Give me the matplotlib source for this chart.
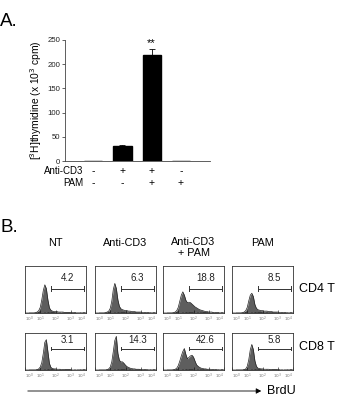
import matplotlib
matplotlib.use("Agg")
import matplotlib.pyplot as plt

plt.rcParams['font.family'] = ['Liberation Sans', 'DejaVu Sans']

W, H = 341, 397

# ---------------- data ----------------
conditions = ["1", "2", "3", "4"]
thymidine = [0.5, 31, 218, 0.5]
thymidine_err = [0, 3, 13, 0]
anti_cd3_signs = ["-", "+", "+", "-"]
pam_signs = ["-", "-", "+", "+"]

col_titles = ["NT", "Anti-CD3", "Anti-CD3\n+ PAM", "PAM"]
row_titles = ["CD4 T", "CD8 T"]
gate_values = [["4.2", "6.3", "18.8", "8.5"],
               ["3.1", "14.3", "42.6", "5.8"]]

# BrdU histograms: x grid in log10 units (0..4), y in % of box height
log_brdu = [0.0, 0.1, 0.2, 0.3, 0.4, 0.5, 0.6, 0.7, 0.8, 0.9, 1.0,
            1.1, 1.2, 1.3, 1.4, 1.5, 1.6, 1.7, 1.8, 1.9, 2.0,
            2.1, 2.2, 2.3, 2.4, 2.5, 2.6, 2.7, 2.8, 2.9, 3.0,
            3.1, 3.2, 3.3, 3.4, 3.5, 3.6, 3.7, 3.8, 3.9, 4.0]
cd4_nt = [0,0,0,0,0,0,0,1,2,5,12,28,48,60,52,28,11,6,4,3,3,3,2,2,2,2,1,1,1,1,1,1,1,1,0,0,0,0,0,0,0]
cd4_cd3 = [0,0,0,0,0,0,0,1,2,4,10,25,50,63,52,28,14,9,7,6,5,5,4,4,3,3,3,2,2,2,2,1,1,1,1,1,0,0,0,0,0]
cd4_cd3pam = [0,0,0,0,0,0,0,1,2,5,12,25,38,45,38,27,22,23,22,19,16,13,11,9,7,6,5,4,3,3,2,2,2,1,1,1,1,0,0,0,0]
cd4_pam = [0,0,0,0,0,0,0,1,2,5,12,26,38,42,35,18,10,7,6,5,5,4,4,4,3,3,3,2,2,2,2,1,1,1,1,1,0,0,0,0,0]
cd8_nt = [0,0,0,0,0,0,0,0,1,3,8,20,45,75,82,50,18,7,4,3,3,2,2,2,1,1,1,1,1,1,1,0,0,0,0,0,0,0,0,0,0]
cd8_cd3 = [0,0,0,0,0,0,0,0,1,3,8,22,50,80,91,45,26,22,22,18,13,9,7,5,4,3,3,2,2,2,1,1,1,1,1,0,0,0,0,0,0]
cd8_cd3pam = [0,0,0,0,0,0,0,1,2,5,12,24,38,50,58,42,30,34,38,40,35,24,14,10,7,5,4,3,3,2,2,2,1,1,1,1,0,0,0,0,0]
cd8_pam = [0,0,0,0,0,0,0,0,1,3,10,28,55,69,55,25,10,5,4,3,3,2,2,2,2,1,1,1,1,1,1,1,0,0,0,0,0,0,0,0,0]
histograms = [[cd4_nt, cd4_cd3, cd4_cd3pam, cd4_pam],
              [cd8_nt, cd8_cd3, cd8_cd3pam, cd8_pam]]
gate_range = [1.7, 3.85]
decade_labels = [r"$10^{0}$", r"$10^{1}$", r"$10^{2}$", r"$10^{3}$", r"$10^{4}$"]

# ---------------- helpers ----------------
def fx(px):
    return px / W

def fy(py):
    return 1 - py / H

def rect(left, top, right, bottom):
    return [fx(left), fy(bottom), fx(right) - fx(left), fy(top) - fy(bottom)]

fig = plt.figure(figsize=(W / 100, H / 100), dpi=100)
fig.patch.set_facecolor("white")

# ---------------- Panel A ----------------
axA = fig.add_axes(rect(65, 40, 210, 161))
xpos = list(range(len(conditions)))
axA.bar(xpos, thymidine, width=0.62, color="black", edgecolor="black")
axA.errorbar(xpos[1:3], thymidine[1:3], yerr=[[0, 0], thymidine_err[1:3]],
             fmt="none", ecolor="black", elinewidth=0.6, capsize=2.0, capthick=0.6)
axA.text(2, thymidine[2] + thymidine_err[2] + 2, "**", ha="center", va="bottom", fontsize=8)
axA.set_xlim(-0.97, 4.0)
axA.set_ylim(0, 250)
axA.set_yticks([0, 50, 100, 150, 200, 250])
axA.tick_params(axis="y", labelsize=5.6, length=2, width=0.5, pad=1.5, colors="#222222")
axA.set_xticks([])
for s in ["top", "right"]:
    axA.spines[s].set_visible(False)
for s in ["left", "bottom"]:
    axA.spines[s].set_linewidth(0.6)
    axA.spines[s].set_color("#444444")
axA.set_ylabel(r"[$^{3}$H]thymidine (x 10$^{3}$ cpm)", fontsize=7.4, labelpad=2)

tx = axA.get_xaxis_transform()
for i in xpos:
    axA.text(i, -0.085, anti_cd3_signs[i], transform=tx, ha="center", va="center", fontsize=7.5)
    axA.text(i, -0.185, pam_signs[i], transform=tx, ha="center", va="center", fontsize=7.5)
fig.text(fx(83), fy(171), "Anti-CD3", ha="right", va="center", fontsize=7)
fig.text(fx(83), fy(183), "PAM", ha="right", va="center", fontsize=7)

fig.text(fx(0), fy(22), "A.", ha="left", va="center", fontsize=13.5)
fig.text(fx(0), fy(228), "B.", ha="left", va="center", fontsize=13.5)

# ---------------- Panel B ----------------
col_x = [25, 95, 163, 232]
box_w = 61
rows_y = [(266, 313), (333, 370)]
for r, (top, bottom) in enumerate(rows_y):
    for c in range(4):
        ax = fig.add_axes(rect(col_x[c], top, col_x[c] + box_w, bottom))
        yv = histograms[r][c]
        ax.fill_between(log_brdu, 0, yv, color="#5e5e5e", linewidth=0)
        ax.plot(log_brdu, yv, color="#222222", linewidth=0.5)
        ax.set_xlim(0, 4)
        ax.set_ylim(0, 100)
        gy = 52 if r == 0 else 58
        ax.plot(gate_range, [gy, gy], color="#333333", linewidth=0.7)
        for gx in gate_range:
            ax.plot([gx, gx], [gy - 5, gy + 5], color="#333333", linewidth=0.7)
        ty = 75 if r == 0 else 80
        ax.text(sum(gate_range) / 2, ty, gate_values[r][c], ha="center", va="center",
                fontsize=7, color="#222222")
        ax.set_xticks(range(5))
        ax.set_xticklabels(decade_labels)
        ax.set_xticks([0.3, 0.48, 0.6, 0.7, 0.78, 0.85, 0.9, 0.95,
                       1.3, 1.48, 1.6, 1.7, 1.78, 1.85, 1.9, 1.95,
                       2.3, 2.48, 2.6, 2.7, 2.78, 2.85, 2.9, 2.95,
                       3.3, 3.48, 3.6, 3.7, 3.78, 3.85, 3.9, 3.95], minor=True)
        ax.set_yticks([])
        ax.tick_params(axis="x", which="major", direction="in", length=2, width=0.4,
                       labelsize=3.0, pad=1.2, labelcolor="#777777")
        ax.tick_params(axis="x", which="minor", direction="in", length=1, width=0.3)
        labels = ax.get_xticklabels()
        labels[0].set_horizontalalignment("left")
        labels[-1].set_horizontalalignment("right")
        for s in ax.spines.values():
            s.set_linewidth(0.6)
            s.set_color("#333333")

col_centers = [c + box_w / 2 for c in col_x]
for c, title in enumerate(col_titles):
    if "\n" in title:
        fig.text(fx(col_centers[c]), fy(237), title, ha="center", va="top",
                 fontsize=7.8, linespacing=1.15)
    else:
        fig.text(fx(col_centers[c]), fy(243), title, ha="center", va="center", fontsize=7.8)

fig.text(fx(299), fy(289), row_titles[0], ha="left", va="center", fontsize=9)
fig.text(fx(299), fy(347), row_titles[1], ha="left", va="center", fontsize=9)

fig.add_artist(matplotlib.patches.FancyArrowPatch(
    (fx(25), fy(391)), (fx(264), fy(391)), transform=fig.transFigure,
    arrowstyle="-|>,head_length=3,head_width=1.6", color="black", linewidth=0.6))
fig.text(fx(267), fy(391), "BrdU", ha="left", va="center", fontsize=9)

fig.savefig("out.png", dpi=100, facecolor="white")
